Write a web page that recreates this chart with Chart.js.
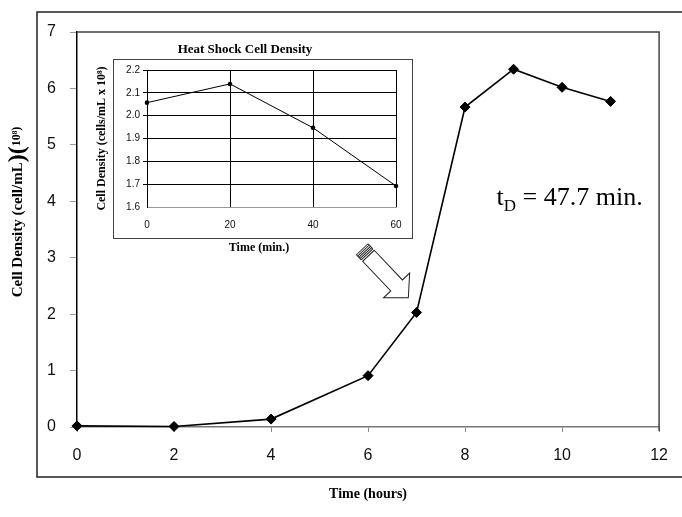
<!DOCTYPE html>
<html><head><meta charset="utf-8">
<script src="https://cdn.jsdelivr.net/npm/chart.js@4"></script>
<style>
html,body{margin:0;padding:0;background:#fff;}
#wrap{position:relative;width:682px;height:517px;overflow:hidden;background:#fff;}
#main{position:absolute;left:0;top:0;}
#inset{position:absolute;left:90px;top:38px;}
</style></head><body>
<div id="wrap">
<canvas id="main" width="682" height="517"></canvas>
<canvas id="inset" width="330" height="222"></canvas>
</div>
<script>
// ---- data ----
const hours = [0, 2, 4, 6, 7, 8, 9, 10, 11];
const density = [0.02, 0.01, 0.14, 0.91, 2.03, 5.67, 6.34, 6.02, 5.77];
const minutes = [0, 20, 40, 60];
const heatShockDensity = [2.057, 2.139, 1.947, 1.692];

// ---- texts ----
const xTitle = 'Time (hours)';
const yTitleParts = ['Cell Density (cell/mL', ')', '(', '10⁸)'];
const doublingParts = ['t', 'D', ' = 47.7 min.'];
const insetTitle = 'Heat Shock Cell Density';
const insetXTitle = 'Time (min.)';
const insetYTitle = 'Cell Density (cells/mL x 10⁸)';

// annotation anchors in data units
const arrowTail = {x: 5.88, y: 3.15};
const arrowTip = {x: 6.83, y: 2.29};
const doublingAnchor = {x: 8.65, y: 3.93};

const SANS = '"Liberation Sans", Arial, sans-serif';
const SERIF = '"Liberation Serif", "Times New Roman", serif';

function drawArrow(ctx, tail, tip) {
  const dx = tip.x - tail.x, dy = tip.y - tail.y, L = Math.hypot(dx, dy);
  ctx.save();
  ctx.translate(tail.x, tail.y);
  ctx.rotate(Math.atan2(dy, dx));
  const hw = 8, hh = 18, hl = 17, cap = 7;
  ctx.lineWidth = 1; ctx.strokeStyle = '#222'; ctx.fillStyle = '#fff';
  ctx.beginPath();
  ctx.moveTo(cap + 2, -hw);
  ctx.lineTo(L - hl, -hw); ctx.lineTo(L - hl, -hh); ctx.lineTo(L, 0);
  ctx.lineTo(L - hl, hh); ctx.lineTo(L - hl, hw); ctx.lineTo(cap + 2, hw);
  ctx.closePath(); ctx.fill(); ctx.stroke();
  for (let t = 0; t <= cap + 0.01; t += 1.75) {
    ctx.beginPath(); ctx.moveTo(t, -hw); ctx.lineTo(t, hw); ctx.stroke();
  }
  ctx.beginPath();
  ctx.moveTo(0, -hw); ctx.lineTo(cap, -hw);
  ctx.moveTo(0, hw); ctx.lineTo(cap, hw);
  ctx.stroke();
  ctx.restore();
}

const mainDecor = {
  id: 'mainDecor',
  beforeDraw(chart) {
    const ctx = chart.ctx;
    ctx.save();
    ctx.fillStyle = '#fff'; ctx.fillRect(0, 0, chart.width, chart.height);
    ctx.strokeStyle = '#222'; ctx.lineWidth = 1.5;
    ctx.strokeRect(37, 12, 700, 465);
    ctx.restore();
  },
  afterDraw(chart) {
    const ctx = chart.ctx, a = chart.chartArea;
    const xs = chart.scales.x, ys = chart.scales.y;
    ctx.save();
    // top & right border of plot area
    ctx.strokeStyle = '#444'; ctx.lineWidth = 1.5;
    ctx.beginPath();
    ctx.moveTo(a.left, a.top); ctx.lineTo(a.right, a.top); ctx.lineTo(a.right, a.bottom + 4);
    ctx.stroke();
    // arrow
    drawArrow(ctx,
      {x: xs.getPixelForValue(arrowTail.x), y: ys.getPixelForValue(arrowTail.y)},
      {x: xs.getPixelForValue(arrowTip.x), y: ys.getPixelForValue(arrowTip.y)});
    // doubling time text
    ctx.fillStyle = '#000'; ctx.textBaseline = 'alphabetic'; ctx.textAlign = 'left';
    let tx = xs.getPixelForValue(doublingAnchor.x), ty = ys.getPixelForValue(doublingAnchor.y);
    ctx.font = '26px ' + SERIF; ctx.fillText(doublingParts[0], tx, ty); tx += ctx.measureText(doublingParts[0]).width;
    ctx.font = '17px ' + SERIF; ctx.fillText(doublingParts[1], tx, ty + 6); tx += ctx.measureText(doublingParts[1]).width;
    ctx.font = '26px ' + SERIF; ctx.fillText(doublingParts[2], tx, ty);
    // y title (rotated, mixed sizes)
    const sizes = [15, 24, 24, 12];
    let total = 0;
    const widths = yTitleParts.map((p, i) => { ctx.font = 'bold ' + sizes[i] + 'px ' + SERIF; const w = ctx.measureText(p).width; total += w; return w; });
    ctx.translate(18, 212); ctx.rotate(-Math.PI / 2);
    ctx.textBaseline = 'middle';
    let px = -total / 2;
    yTitleParts.forEach((p, i) => {
      ctx.font = 'bold ' + sizes[i] + 'px ' + SERIF;
      ctx.fillText(p, px, i === 3 ? -1 : 0);
      px += widths[i];
    });
    ctx.restore();
  }
};

new Chart(document.getElementById('main'), {
  type: 'line',
  data: {datasets: [{
    data: hours.map((h, i) => ({x: h, y: density[i]})),
    borderColor: '#000', borderWidth: 1.6, tension: 0,
    pointStyle: 'rectRot', pointRadius: 5, pointBackgroundColor: '#000', pointBorderColor: '#000', pointBorderWidth: 1,
    clip: false
  }]},
  options: {
    responsive: false, animation: false, devicePixelRatio: 1,
    layout: {padding: {top: 32, right: 14, left: 0, bottom: 0}},
    plugins: {legend: {display: false}, tooltip: {enabled: false}},
    scales: {
      x: {
        type: 'linear', min: 0, max: 12,
        ticks: {stepSize: 2, color: '#111', font: {family: SANS, size: 16}, padding: 14, maxRotation: 0},
        grid: {drawOnChartArea: false, tickLength: 5, color: '#888'},
        border: {color: '#777', width: 1.5},
        title: {display: true, text: xTitle, color: '#000', font: {family: SERIF, size: 14, weight: 'bold'}, padding: {top: 0, bottom: 14}},
        afterFit(s) { s.height = 90; }
      },
      y: {
        min: 0, max: 7,
        ticks: {stepSize: 1, color: '#111', font: {family: SANS, size: 16}, padding: 14},
        grid: {drawOnChartArea: false, tickLength: 7, color: '#999'},
        border: {color: '#000', width: 1.5},
        afterFit(s) { s.width = 77; }
      }
    }
  },
  plugins: [mainDecor]
});

const insetDecor = {
  id: 'insetDecor',
  beforeDraw(chart) {
    const ctx = chart.ctx;
    ctx.save();
    ctx.fillStyle = '#fff'; ctx.fillRect(23, 21, 299, 179);
    ctx.strokeStyle = '#444'; ctx.lineWidth = 1;
    ctx.strokeRect(23.5, 21.5, 299, 179);
    ctx.restore();
  },
  afterDraw(chart) {
    const ctx = chart.ctx;
    ctx.save();
    ctx.fillStyle = '#000'; ctx.textAlign = 'center'; ctx.textBaseline = 'middle';
    ctx.font = 'bold 13px ' + SERIF; ctx.fillText(insetTitle, 155, 12);
    ctx.font = 'bold 12px ' + SERIF; ctx.fillText(insetXTitle, 169, 210);
    ctx.restore();
  }
};

new Chart(document.getElementById('inset'), {
  type: 'line',
  data: {datasets: [{
    data: minutes.map((m, i) => ({x: m, y: heatShockDensity[i]})),
    borderColor: '#000', borderWidth: 1, tension: 0,
    pointStyle: 'circle', pointRadius: 2.3, pointBackgroundColor: '#000', pointBorderWidth: 0,
    clip: false
  }]},
  options: {
    responsive: false, animation: false, devicePixelRatio: 1,
    layout: {padding: {top: 32, right: 24, left: 0, bottom: 0}},
    plugins: {legend: {display: false}, tooltip: {enabled: false}},
    scales: {
      x: {
        type: 'linear', min: 0, max: 60,
        ticks: {stepSize: 20, color: '#111', font: {family: SANS, size: 10}, padding: 12, maxRotation: 0},
        grid: {color: '#000', lineWidth: 1, drawTicks: false},
        border: {color: '#999'},
        afterFit(s) { s.height = 53; }
      },
      y: {
        min: 1.6, max: 2.2,
        ticks: {stepSize: 0.1, color: '#111', font: {family: SANS, size: 10}, padding: 3, callback: v => v.toFixed(1)},
        grid: {color: c => (c.tick && Math.abs(c.tick.value - 1.6) < 1e-6) ? 'rgba(0,0,0,0)' : '#000', lineWidth: 1, tickLength: 4},
        border: {color: '#000'},
        title: {display: true, text: insetYTitle, color: '#000', font: {family: SERIF, size: 12, weight: 'bold'}, padding: {top: 5, bottom: 0}},
        afterFit(s) { s.width = 57; }
      }
    }
  },
  plugins: [insetDecor]
});
</script>
</body></html>
